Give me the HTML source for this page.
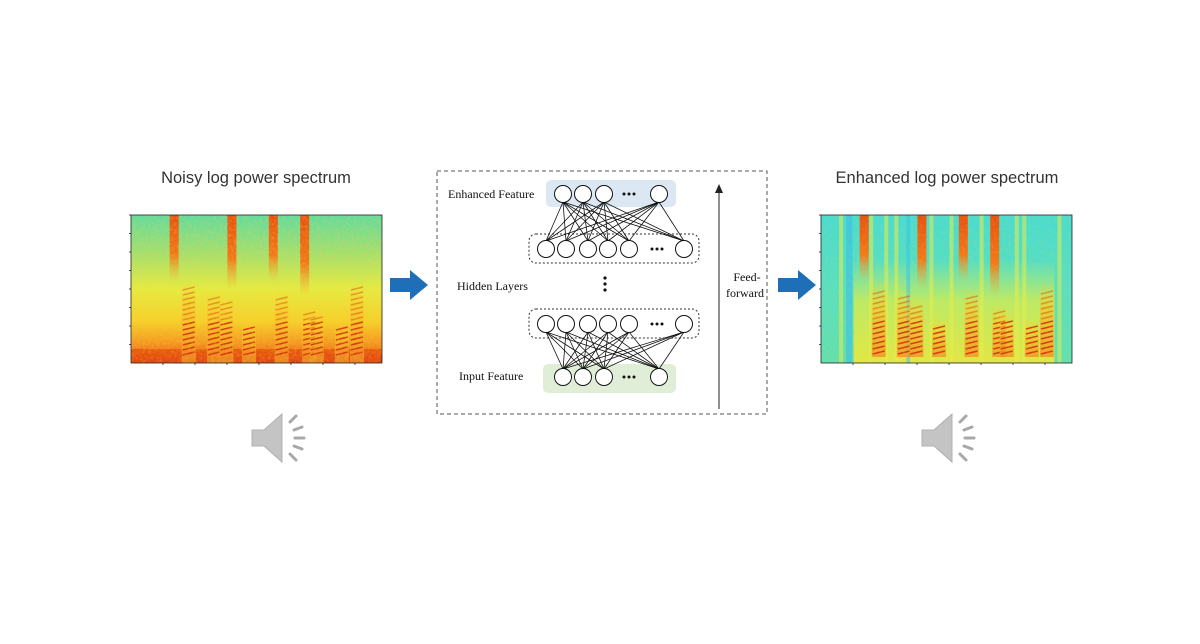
<!DOCTYPE html>
<html><head><meta charset="utf-8">
<style>
html,body{margin:0;padding:0;background:#fff;}
body{width:1200px;height:639px;overflow:hidden;font-family:"Liberation Sans",sans-serif;}
svg text{font-family:"Liberation Sans",sans-serif;}
.serif{font-family:"Liberation Serif",serif;font-size:12px;fill:#111;}
</style></head>
<body>
<svg id="root" width="1200" height="639" viewBox="0 0 1200 639">
<defs>
<linearGradient id="bgNoisy" x1="0" y1="0" x2="0" y2="1">
<stop offset="0" stop-color="#60dca0"/><stop offset="0.25" stop-color="#a0e070"/>
<stop offset="0.5" stop-color="#e4ec40"/><stop offset="0.72" stop-color="#f6d028"/>
<stop offset="0.86" stop-color="#f49a20"/><stop offset="1" stop-color="#e84810"/>
</linearGradient>
<linearGradient id="bgEnh" x1="0" y1="0" x2="0" y2="1">
<stop offset="0" stop-color="#48dcd0"/><stop offset="0.5" stop-color="#58e0c0"/><stop offset="1" stop-color="#60e0b0"/>
</linearGradient>
<linearGradient id="band" x1="0" y1="0" x2="0" y2="1">
<stop offset="0" stop-color="#e85010"/><stop offset="0.6" stop-color="#f07a18"/><stop offset="1" stop-color="#f8b030" stop-opacity="0"/>
</linearGradient>
<linearGradient id="harm" x1="0" y1="0" x2="0" y2="1">
<stop offset="0" stop-color="#f8d830" stop-opacity="0"/><stop offset="0.35" stop-color="#f6c828" stop-opacity="0.8"/><stop offset="1" stop-color="#f09020"/>
</linearGradient>
<linearGradient id="enhSpeech" x1="0" y1="0" x2="0" y2="1">
<stop offset="0" stop-color="#d8f050" stop-opacity="0"/><stop offset="0.4" stop-color="#e4f040" stop-opacity="0.7"/><stop offset="1" stop-color="#f0e838" stop-opacity="0.9"/>
</linearGradient>
<filter id="noise" x="0" y="0" width="100%" height="100%">
<feTurbulence type="fractalNoise" baseFrequency="0.35" numOctaves="2" seed="3"/>
<feColorMatrix type="matrix" values="0 0 0 0 1  0 0 0 0 0.6  0 0 0 0 0.1  0 0 0 1.4 -0.55"/>
</filter>
</defs>

<text x="256" y="183" text-anchor="middle" font-size="16.5" fill="#333">Noisy log power spectrum</text>
<text x="947" y="183" text-anchor="middle" font-size="16.5" fill="#333">Enhanced log power spectrum</text>

<g id="noisy"></g>
<g id="enh"></g>

<path d="M390 278 H410 V270 L428 285 L410 300 V292 H390 Z" fill="#1f6fb8"/>
<path d="M778 278 H798 V270 L816 285 L798 300 V292 H778 Z" fill="#1f6fb8"/>

<g>
<rect x="437" y="171" width="330" height="243" fill="none" stroke="#555" stroke-dasharray="4,3"/>
<rect x="546" y="180" width="130" height="27" rx="5" fill="#dbe8f4"/>
<rect x="543" y="364" width="133" height="29" rx="5" fill="#e0eed8"/>
<rect x="529" y="234" width="170" height="29" rx="7" fill="none" stroke="#333" stroke-dasharray="2,2"/>
<rect x="529" y="309" width="170" height="29" rx="7" fill="none" stroke="#333" stroke-dasharray="2,2"/>
<g id="edges" stroke="#111" stroke-width="0.8"></g>
<g id="nodes"></g>
<text x="448" y="198" class="serif">Enhanced Feature</text>
<text x="457" y="290" class="serif">Hidden Layers</text>
<text x="459" y="380" class="serif">Input Feature</text>
<circle cx="605" cy="278" r="1.6" fill="#111"/><circle cx="605" cy="284" r="1.6" fill="#111"/><circle cx="605" cy="290" r="1.6" fill="#111"/>
<line x1="719" y1="409" x2="719" y2="192" stroke="#222" stroke-width="1"/>
<path d="M715 193 L719 184 L723 193 Z" fill="#222"/>
<text x="747" y="281" text-anchor="middle" class="serif">Feed-</text>
<text x="745" y="297" text-anchor="middle" class="serif">forward</text>
</g>

<g id="spk1" transform="translate(250,408)"></g>
<g id="spk2" transform="translate(920,408)"></g>
</svg>
<script>
const NS='http://www.w3.org/2000/svg';
function mk(t,a,p){const e=document.createElementNS(NS,t);for(const k in a)e.setAttribute(k,a[k]);p.appendChild(e);return e;}
const bandsX=[0.17,0.40,0.565,0.69];
const bandsLen=[0.45,0.5,0.45,0.55];
const harmX=[0.23,0.33,0.38,0.47,0.6,0.71,0.74,0.84,0.9];
const harmH=[0.55,0.5,0.45,0.3,0.5,0.4,0.35,0.3,0.55];
const enhStripeX=[0.08,0.2,0.26,0.3,0.44,0.52,0.64,0.78,0.81,0.95];
function spectro(g,x0,enh){
  const W=251,H=148,y0=215;
  mk('rect',{x:x0,y:y0,width:W,height:H,fill:enh?'url(#bgEnh)':'url(#bgNoisy)'},g);
  if(enh){
    mk('rect',{x:x0+W*0.13,y:y0+H*0.3,width:W*0.8,height:H*0.7,fill:'url(#enhSpeech)'},g);
    enhStripeX.forEach(sx=>mk('rect',{x:x0+sx*W-2,y:y0,width:4,height:H,fill:'#e6ee48',opacity:0.55},g));
    mk('rect',{x:x0+W*0.1,y:y0,width:W*0.025,height:H,fill:'#30b8f0',opacity:0.5},g);
    mk('rect',{x:x0+W*0.34,y:y0,width:W*0.015,height:H,fill:'#30c0f0',opacity:0.5},g);
  } else {
    mk('rect',{x:x0,y:y0+H-14,width:W,height:14,fill:'#e04008',opacity:0.55},g);
  }
  harmX.forEach((hx,i)=>{
    const x=x0+hx*W,h=harmH[i]*H;
    mk('rect',{x:x-7,y:y0+H-h,width:14,height:h-(enh?6:0),fill:'url(#harm)',opacity:0.8},g);
    for(let yy=y0+H-(enh?9:8);yy>y0+H-h+8;yy-=5){
      mk('line',{x1:x-6,y1:yy,x2:x+6,y2:yy-3,stroke:'#d02808','stroke-width':1.5,opacity:(yy>y0+H-40?0.85:0.4)},g);
    }
  });
  bandsX.forEach((bx,i)=>{
    mk('rect',{x:x0+bx*W-4,y:y0,width:9,height:bandsLen[i]*H,fill:'url(#band)'},g);
  });
  mk('rect',{x:x0,y:y0,width:W,height:H,filter:'url(#noise)',opacity:enh?0.25:0.45},g);
  mk('rect',{x:x0,y:y0,width:W,height:H,fill:'none',stroke:'#222','stroke-width':0.8},g);
  for(let i=0;i<8;i++){mk('line',{x1:x0-2,y1:y0+i*18.5,x2:x0,y2:y0+i*18.5,stroke:'#222','stroke-width':0.8},g);}
  for(let i=1;i<8;i++){mk('line',{x1:x0+i*32,y1:y0+H,x2:x0+i*32,y2:y0+H+2,stroke:'#222','stroke-width':0.8},g);}
}
spectro(document.getElementById('noisy'),131,false);
spectro(document.getElementById('enh'),821,true);

const outX=[563,583,604,659], inX=[563,583,604,659];
const hidX=[546,566,588,608,629,684];
const rows=[{y:194,xs:outX},{y:249,xs:hidX},{y:324,xs:hidX},{y:377,xs:inX}];
const E=document.getElementById('edges'),N=document.getElementById('nodes');
[[0,1],[2,3]].forEach(([a,b])=>{
  rows[a].xs.forEach(xa=>rows[b].xs.forEach(xb=>{
    mk('line',{x1:xa,y1:rows[a].y+8,x2:xb,y2:rows[b].y-8},E);
  }));
});
rows.forEach(r=>{
  r.xs.forEach(x=>{const c=mk('circle',{cx:x,cy:r.y,r:8.5,fill:'#fff',stroke:'#111','stroke-width':1},N);
    
    });
  const dx=r.xs.length===4?629:657;
  [-5,0,5].forEach(d=>mk('circle',{cx:dx+d,cy:r.y,r:1.5,fill:'#111'},N));
});

function speaker(g){
  mk('path',{d:'M2 22 H14 L32 6 V54 L14 38 H2 Z',fill:'#c4c4c4',stroke:'#b0b0b0'},g);
  const segs=[[40,14,46,8],[44,22,52,19],[45,30,54,30],[44,38,52,41],[40,46,46,52]];
  segs.forEach(s=>mk('line',{x1:s[0],y1:s[1],x2:s[2],y2:s[3],stroke:'#a8a8a8','stroke-width':3,'stroke-linecap':'round'},g));
}
speaker(document.getElementById('spk1'));
speaker(document.getElementById('spk2'));
</script>
</body></html>
